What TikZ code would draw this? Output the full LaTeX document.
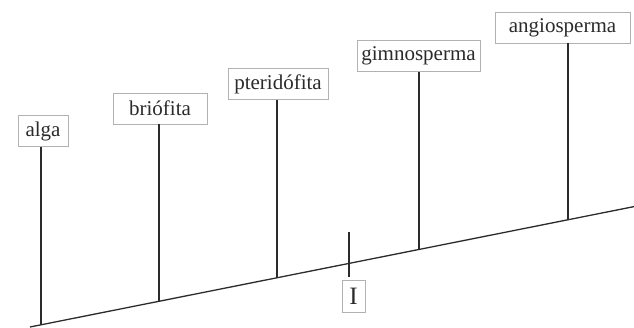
\documentclass[tikz,border=0pt]{standalone}
\usepackage{fontspec}
\setmainfont{Liberation Serif}
\usetikzlibrary{calc}
\definecolor{tinta}{HTML}{2B2B2B}
\tikzset{
	caixa/.style={draw=gray!60, line width=0.9pt, fill=white, text=tinta, minimum height=31, inner sep=0pt, font=\fontsize{21}{25}\selectfont},
	haste/.style={draw=tinta, line width=1.3pt}
}
\begin{document}
\begin{tikzpicture}[x=1pt,y=-1pt]
	\useasboundingbox (0,0) rectangle (634,327);
	\coordinate (O) at (30,327);
	\coordinate (E) at (634,206.6);
	\draw[haste] (O) -- (E);
	\coordinate (pA) at ($(O)!{11/604}!(E)$);
	\coordinate (pB) at ($(O)!{129/604}!(E)$);
	\coordinate (pP) at ($(O)!{247/604}!(E)$);
	\coordinate (pI) at ($(O)!{319/604}!(E)$);
	\coordinate (pG) at ($(O)!{389/604}!(E)$);
	\coordinate (pN) at ($(O)!{538/604}!(E)$);
	\node[caixa, minimum width=50] (alga) at (43,131) {alga};
	\node[caixa, minimum width=94] (brio) at (160,108.5) {briófita};
	\node[caixa, minimum width=100] (pter) at (278,84) {pteridófita};
	\node[caixa, minimum width=123] (gimno) at (418.5,56) {gimnosperma};
	\node[caixa, minimum width=135] (angio) at (562.5,27.5) {angiosperma};
	\node[caixa, minimum width=23, minimum height=32, font=\fontsize{25}{30}\selectfont] (marca) at (353.5,296) {I};
	\draw[haste] (pA) -- (pA |- alga.south);
	\draw[haste] (pB) -- (pB |- brio.south);
	\draw[haste] (pP) -- (pP |- pter.south);
	\draw[haste] (pG) -- (pG |- gimno.south);
	\draw[haste] (pN) -- (pN |- angio.south);
	\draw[haste] ($(pI)+(0,-31)$) -- ($(pI)+(0,14)$);
\end{tikzpicture}
\end{document}
